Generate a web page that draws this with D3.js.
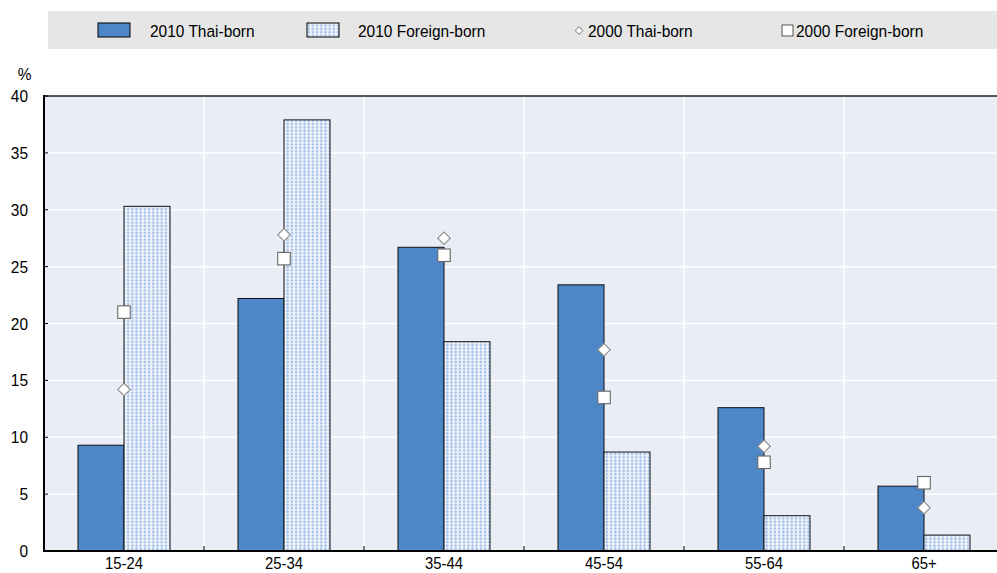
<!DOCTYPE html>
<html><head><meta charset="utf-8">
<script src="https://cdn.jsdelivr.net/npm/d3@7/dist/d3.min.js"></script>
<style>
body{margin:0;background:#fff;}
svg{display:block;font-family:"Liberation Sans",Arial,sans-serif;}
</style></head><body>
<svg id="c" width="997" height="573"></svg>
<script>
const categories = ["15-24","25-34","35-44","45-54","55-64","65+"];
const thai2010 = [9.3, 22.2, 26.7, 23.4, 12.6, 5.7];
const foreign2010 = [30.3, 37.9, 18.4, 8.7, 3.1, 1.4];
const thai2000 = [14.2, 27.8, 27.5, 17.7, 9.2, 3.8];
const foreign2000 = [21.0, 25.7, 26.0, 13.5, 7.8, 6.0];
const yTicks = [0,5,10,15,20,25,30,35,40];

const svg = d3.select("#c");
const L = 44, R = 1004, T = 96, B = 551;
const x = d3.scaleBand().domain(categories).range([L, R]).paddingInner(0).paddingOuter(0);
const y = d3.scaleLinear().domain([0, 40]).range([B, T]);
const bw = 46;
const FS = 17, SX = 0.91;

const defs = svg.append("defs");
const pat = defs.append("pattern").attr("id","dots").attr("patternUnits","userSpaceOnUse")
  .attr("width",4.2).attr("height",3.4);
pat.append("rect").attr("width",4.2).attr("height",3.4).attr("fill","#eef3fb");
pat.append("circle").attr("cx",2.1).attr("cy",1.7).attr("r",1.2).attr("fill","#9dbbe6");
defs.append("clipPath").attr("id","clip").append("rect").attr("x",0).attr("y",0).attr("width",997).attr("height",573);

function narrow(sel, sx){
  sel.each(function(){
    const t = d3.select(this);
    const tx = +t.attr("x"), ty = +t.attr("y");
    t.attr("x",0).attr("y",0).attr("transform",`translate(${tx},${ty}) scale(${sx},1)`);
  });
}

// legend
const lg = svg.append("g");
lg.append("rect").attr("x",48).attr("y",11).attr("width",949).attr("height",38).attr("fill","#e6e6e6");
lg.append("rect").attr("x",98).attr("y",23).attr("width",32).attr("height",14).attr("fill","#4d87c7").attr("stroke","#000").attr("stroke-width",1);
lg.append("rect").attr("x",307).attr("y",23).attr("width",32).attr("height",14).attr("fill","url(#dots)").attr("stroke","#000").attr("stroke-width",1);
lg.append("path").attr("d",d3.symbol(d3.symbolSquare, 30)()).attr("transform","translate(579,30.5) rotate(45)").attr("fill","#fff").attr("stroke","#555").attr("stroke-width",0.8);
lg.append("rect").attr("x",782).attr("y",25).attr("width",11).attr("height",11).attr("fill","#fff").attr("stroke","#444").attr("stroke-width",0.9);
const legTexts = [[150,"2010 Thai-born"],[358,"2010 Foreign-born"],[588,"2000 Thai-born"],[796,"2000 Foreign-born"]];
lg.selectAll("text").data(legTexts).join("text")
  .attr("x",d=>d[0]).attr("y",36.5).attr("font-size",FS).attr("fill","#000").text(d=>d[1]).call(narrow,SX);

const g = svg.append("g").attr("clip-path","url(#clip)");
g.append("rect").attr("x",L).attr("y",T).attr("width",R-L).attr("height",B-T).attr("fill","#e9edf6");
g.selectAll("line.hg").data(yTicks.filter(d=>d>0 && d<40)).join("line")
  .attr("x1",L).attr("x2",R).attr("y1",d=>y(d)).attr("y2",d=>y(d)).attr("stroke","#fff").attr("stroke-width",1.5);
g.selectAll("line.vg").data(categories.slice(1)).join("line")
  .attr("x1",d=>x(d)).attr("x2",d=>x(d)).attr("y1",T).attr("y2",B).attr("stroke","#fff").attr("stroke-width",1.5);

// bars
g.selectAll("rect.t").data(categories).join("rect")
  .attr("x",d=>x(d)+x.bandwidth()/2-bw).attr("width",bw)
  .attr("y",(d,i)=>y(thai2010[i])).attr("height",(d,i)=>B-y(thai2010[i]))
  .attr("fill","#4d87c7").attr("stroke","#111").attr("stroke-width",1);
g.selectAll("rect.f").data(categories).join("rect")
  .attr("x",d=>x(d)+x.bandwidth()/2).attr("width",bw)
  .attr("y",(d,i)=>y(foreign2010[i])).attr("height",(d,i)=>B-y(foreign2010[i]))
  .attr("fill","url(#dots)").attr("stroke","#111").attr("stroke-width",1);

// markers
const sq = 12.5;
g.selectAll("rect.s").data(categories).join("rect")
  .attr("x",d=>x(d)+x.bandwidth()/2-sq/2).attr("y",(d,i)=>y(foreign2000[i])-sq/2)
  .attr("width",sq).attr("height",sq).attr("fill","#fff").attr("stroke","#666").attr("stroke-width",1.1);
g.selectAll("path.d").data(categories).join("path")
  .attr("d",d3.symbol(d3.symbolSquare, 78)())
  .attr("transform",(d,i)=>`translate(${x(d)+x.bandwidth()/2},${y(thai2000[i])}) rotate(45)`)
  .attr("fill","#fff").attr("stroke","#8a8a8a").attr("stroke-width",1.1);

g.append("line").attr("x1",L).attr("x2",R).attr("y1",T).attr("y2",T).attr("stroke","#222").attr("stroke-width",1.5);

// y axis
const ya = svg.append("g");
ya.append("line").attr("x1",L).attr("x2",L).attr("y1",T-1).attr("y2",B).attr("stroke","#000").attr("stroke-width",2);
ya.selectAll("line.tk").data(yTicks).join("line")
  .attr("x1",L).attr("x2",L+4).attr("y1",d=>y(d)).attr("y2",d=>y(d)).attr("stroke","#000").attr("stroke-width",1);
ya.selectAll("text").data(yTicks).join("text")
  .attr("x",28).attr("y",d=>y(d)+6).attr("text-anchor","end").attr("font-size",FS).text(d=>d).call(narrow,SX);
svg.append("text").attr("x",24.5).attr("y",80).attr("text-anchor","middle").attr("font-size",FS).text("%").call(narrow,SX);

// x axis
const xa = svg.append("g");
xa.append("line").attr("x1",L-1).attr("x2",997).attr("y1",B).attr("y2",B).attr("stroke","#000").attr("stroke-width",2);
xa.selectAll("line.tk").data(categories.slice(1)).join("line")
  .attr("x1",d=>x(d)).attr("x2",d=>x(d)).attr("y1",B).attr("y2",B-5).attr("stroke","#000").attr("stroke-width",1);
xa.selectAll("text").data(categories).join("text")
  .attr("x",d=>x(d)+x.bandwidth()/2).attr("y",B+18).attr("text-anchor","middle").attr("font-size",16).text(d=>d).call(narrow,0.93);
</script></body></html>
